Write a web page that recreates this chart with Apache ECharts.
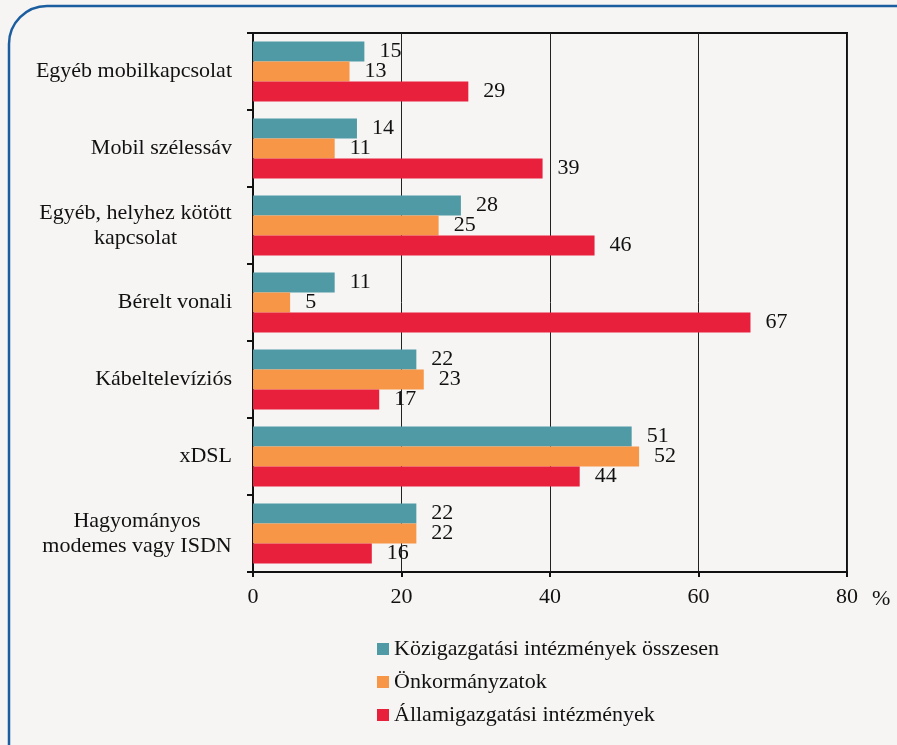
<!DOCTYPE html>
<html>
<head>
<meta charset="utf-8">
<script src="https://cdn.jsdelivr.net/npm/echarts@6/dist/echarts.min.js"></script>
<style>
  html, body { margin: 0; padding: 0; background: #f6f5f4; }
  #chart { width: 897px; height: 745px; }
</style>
</head>
<body>
<div id="chart"></div>
<script>
// kategóriák fentről lefelé
var categories = [
  'Egyéb mobilkapcsolat',
  'Mobil szélessáv',
  'Egyéb, helyhez kötött\nkapcsolat',
  'Bérelt vonali',
  'Kábeltelevíziós',
  'xDSL',
  'Hagyományos\nmodemes vagy ISDN'
]
var seriesNames = [
  'Közigazgatási intézmények összesen',
  'Önkormányzatok',
  'Államigazgatási intézmények'
]
var kozigazgatasi = [15, 14, 28, 11, 22, 51, 22]
var onkormanyzatok = [13, 11, 25, 5, 23, 52, 22]
var allamigazgatasi = [29, 39, 46, 67, 17, 44, 16]
var xTicks = [0, 20, 40, 60, 80]

var colors = ['#4f9aa4', '#f79646', '#e8203c']
var FONT = '"Liberation Serif", "Times New Roman", serif'
var FS = 22

// többsoros címkék középre igazítása: szélesség mérése
var ctx = document.createElement('canvas').getContext('2d')
ctx.font = FS + 'px ' + FONT
var rich = {}
var labelMap = {}
categories.forEach(function (c, i) {
  var lines = c.split('\n')
  if (lines.length === 1) { labelMap[c] = c; return }
  var maxW = Math.max.apply(null, lines.map(function (l) { return ctx.measureText(l).width }))
  var key = 'm' + i
  rich[key] = { width: Math.ceil(maxW), align: 'center', fontFamily: FONT, fontSize: FS, lineHeight: 25, color: '#111' }
  labelMap[c] = lines.map(function (l) { return '{' + key + '|' + l + '}' }).join('\n')
})

function makeSeries(name, data, color) {
  return {
    name: name,
    type: 'bar',
    data: data,
    barGap: '0%',
    barCategoryGap: '22%',
    itemStyle: { color: color },
    label: {
      show: true,
      position: 'right',
      distance: 15,
      fontFamily: FONT,
      fontSize: FS,
      color: '#111'
    }
  }
}

var chart = echarts.init(document.getElementById('chart'))
chart.setOption({
  backgroundColor: '#f6f5f4',
  animation: false,
  textStyle: { fontFamily: FONT },
  grid: {
    left: 253, top: 33, right: 50, bottom: 173,
    show: true, borderColor: '#111', borderWidth: 2, backgroundColor: 'transparent'
  },
  legend: {
    orient: 'vertical',
    left: 372, top: 633,
    itemWidth: 12, itemHeight: 12, itemGap: 11,
    icon: 'rect',
    textStyle: { fontFamily: FONT, fontSize: FS, color: '#111' },
    data: seriesNames
  },
  xAxis: {
    type: 'value',
    min: 0, max: 80, interval: 20,
    name: '%',
    nameLocation: 'end',
    nameGap: 25,
    nameTextStyle: { fontFamily: FONT, fontSize: FS, color: '#111', verticalAlign: 'top', padding: [16, 0, 0, 0] },
    axisLine: { show: true, lineStyle: { color: '#111', width: 2 } },
    axisTick: { show: true, length: 5, lineStyle: { color: '#111', width: 2 } },
    axisLabel: {
      margin: 14, fontFamily: FONT, fontSize: FS, color: '#111',
      formatter: function (v) { return xTicks.indexOf(v) >= 0 ? String(v) : '' }
    },
    splitLine: { show: true, lineStyle: { color: '#222', width: 1 } }
  },
  yAxis: {
    type: 'category',
    inverse: true,
    data: categories,
    axisLine: { show: true, lineStyle: { color: '#111', width: 2 } },
    axisTick: { show: true, length: 6, lineStyle: { color: '#111', width: 2 } },
    axisLabel: {
      margin: 21, fontFamily: FONT, fontSize: FS, color: '#111', lineHeight: 25,
      formatter: function (v) { return labelMap[v] },
      rich: rich
    }
  },
  graphic: [{
    type: 'rect',
    shape: { x: 9, y: 6, width: 930, height: 790, r: 38 },
    style: { fill: 'none', stroke: '#1b5e9f', lineWidth: 2.5 },
    silent: true
  }],
  series: [
    makeSeries(seriesNames[0], kozigazgatasi, colors[0]),
    makeSeries(seriesNames[1], onkormanyzatok, colors[1]),
    makeSeries(seriesNames[2], allamigazgatasi, colors[2])
  ]
})
</script>
</body>
</html>
